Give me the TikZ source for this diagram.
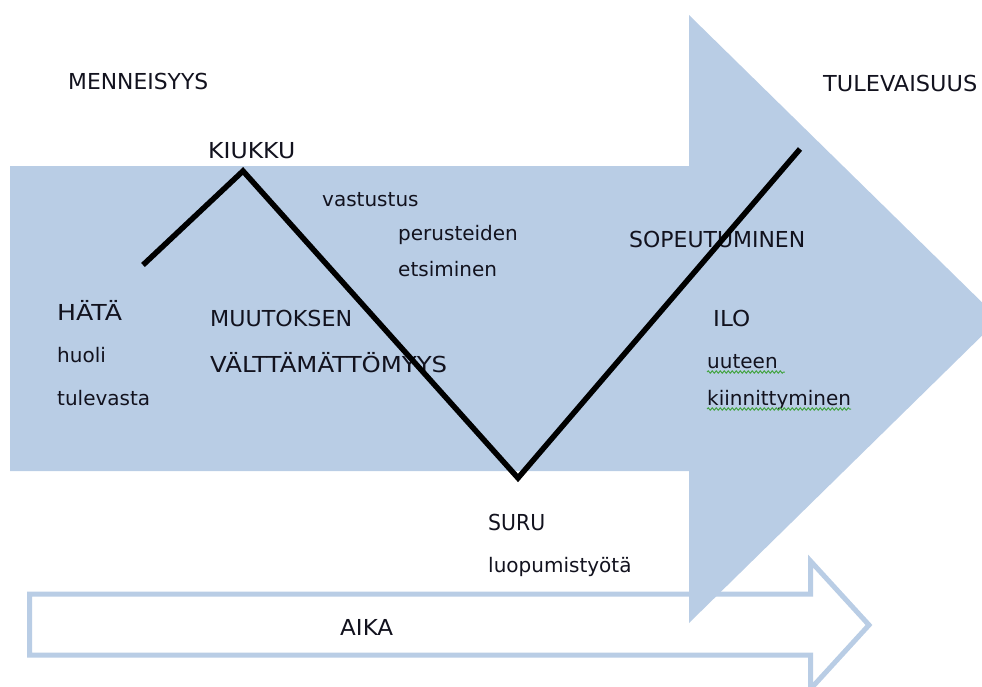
\documentclass[tikz,border=0pt]{standalone}
\usepackage{fontspec}
\setmainfont{DejaVu Sans}
\usetikzlibrary{calc,decorations.pathmorphing}
\definecolor{arrowblue}{RGB}{185,205,229}
\definecolor{inkdark}{RGB}{18,18,30}
\definecolor{spellgreen}{RGB}{70,165,70}
% set a label to a given width, keeping its height
\newcommand\widelabel[2]{\resizebox{#1pt}{\height}{#2}}

\begin{document}
\begin{tikzpicture}[x=1pt,y=-1pt,
  caps/.style={anchor=base west,inner sep=0pt,text=inkdark,font=\fontsize{22}{24}\selectfont},
  lower/.style={anchor=base west,inner sep=0pt,text=inkdark,font=\fontsize{20}{23}\selectfont},
  curve/.style={draw=black,line width=5.5pt,miter limit=10},
  wave/.style={draw=spellgreen,line width=1pt,decorate,
    decoration={snake,amplitude=1.2pt,segment length=4pt}}
]
\useasboundingbox (0,0) rectangle (982,686);

% time arrow: outlined, white inside
\draw[draw=arrowblue,line width=5pt,fill=white,miter limit=10]
  (29.5,594) -- (810.5,594) -- (810.5,561) -- (869,625) -- (810.5,689)
  -- (810.5,655) -- (29.5,655) -- cycle;

% large background arrow
\fill[arrowblue] (10,166) -- (689,166) -- (689,15) -- (999,319)
  -- (689,623) -- (689,471) -- (10,471) -- cycle;

% labels
\node[caps]  (past)    at (68,89)   {\widelabel{140}{MENNEISYYS}};
\node[caps]  (future)  at (823,91)  {\widelabel{154}{TULEVAISUUS}};
\node[caps]  (anger)   at (208,158) {\widelabel{87}{KIUKKU}};
\node[lower] (resist)  at (322,206) {vastustus};
\node[lower] (reason1) at (398,240) {perusteiden};
\node[lower] (reason2) at (398,276) {etsiminen};
\node[caps]  (adapt)   at (629,247) {\widelabel{176}{SOPEUTUMINEN}};
\node[caps]  (alarm)   at (57,320)  {\widelabel{65}{HÄTÄ}};
\node[lower] (worry1)  at (57,362)  {huoli};
\node[lower] (worry2)  at (57,405)  {tulevasta};
\node[caps]  (need1)   at (210,326) {\widelabel{142}{MUUTOKSEN}};
\node[caps]  (need2)   at (210,372) {\widelabel{237}{VÄLTTÄMÄTTÖMYYS}};
\node[caps]  (joy)     at (713,326) {\widelabel{37}{ILO}};
\node[lower] (new1)    at (707,368) {uuteen};
\node[lower] (new2)    at (707,405) {kiinnittyminen};
\node[caps]  (grief)   at (488,530) {\widelabel{57}{SURU}};
\node[lower] (letgo)   at (488,572) {luopumistyötä};
\node[caps]  (time)    at (340,635) {\widelabel{53}{AIKA}};

% spell-check underlines
\draw[wave] ($(new1.base west)+(0,4)$) -- ($(new1.base east)+(7,4)$);
\draw[wave] ($(new2.base west)+(0,4)$) -- ($(new2.base east)+(0,4)$);

% emotional curve
\coordinate (c0) at (143,265);
\coordinate (c1) at (243,171);
\coordinate (c2) at (518,478);
\coordinate (c3) at (800,149);
\draw[curve] (c0) -- (c1) -- (c2) -- (c3);
\end{tikzpicture}
\end{document}
